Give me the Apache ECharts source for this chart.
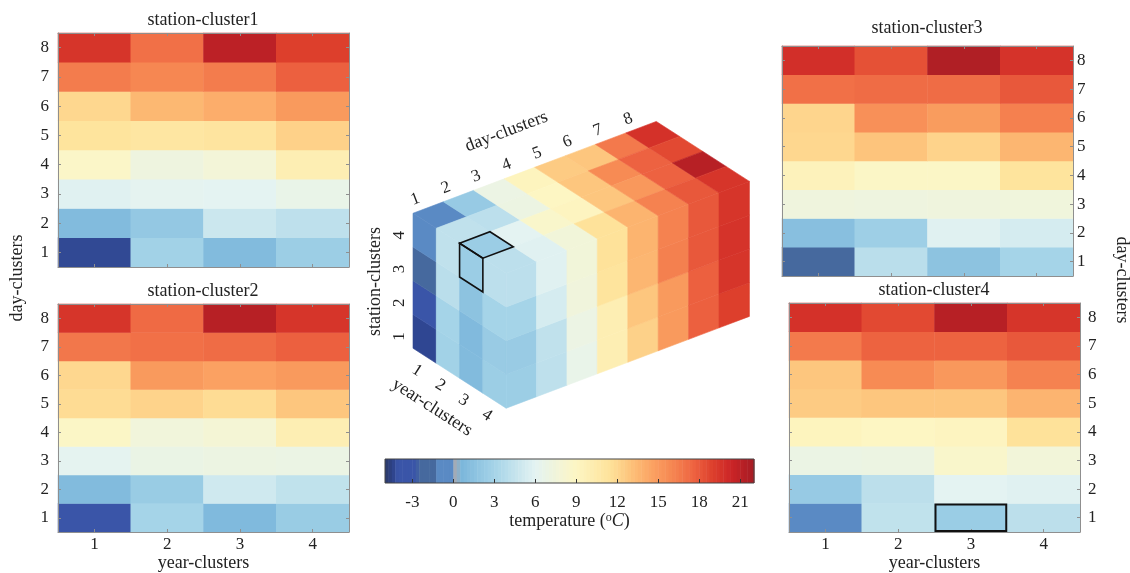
<!DOCTYPE html>
<html><head><meta charset="utf-8">
<script src="https://cdn.jsdelivr.net/npm/echarts@6/dist/echarts.min.js"></script>
<style>html,body{margin:0;padding:0;background:#fff}#c{width:1130px;height:573px}</style>
</head><body><div id="c"></div>
<script>
// ---------- data ----------
const years = ['1', '2', '3', '4'];
const days = ['1', '2', '3', '4', '5', '6', '7', '8'];
const stations = ['1', '2', '3', '4'];
// rows: day-cluster 1..8, columns: year-cluster 1..4 (temperature, °C)
const station1 = [
  [-4.3, 2.8, 1.0, 2.5],
  [1.0, 2.0, 4.8, 4.2],
  [5.8, 6.1, 6.0, 6.6],
  [8.7, 7.2, 7.7, 10.0],
  [11.3, 11.0, 11.2, 12.3],
  [12.0, 13.5, 14.0, 15.0],
  [16.5, 16.0, 16.5, 17.7],
  [19.5, 17.0, 21.0, 19.0]
];
const station2 = [
  [-3.5, 3.0, 0.9, 2.3],
  [1.0, 2.3, 5.0, 4.3],
  [6.1, 6.8, 7.0, 6.9],
  [8.8, 7.5, 7.9, 10.0],
  [11.8, 12.2, 11.8, 12.8],
  [12.0, 15.0, 14.6, 15.0],
  [16.7, 17.0, 17.2, 17.7],
  [19.5, 17.3, 21.2, 19.5]
];
const station3 = [
  [-2.0, 4.0, 1.6, 3.0],
  [1.3, 2.6, 5.8, 5.3],
  [7.3, 7.2, 7.3, 7.4],
  [9.5, 8.8, 8.8, 11.3],
  [12.0, 12.9, 12.2, 13.6],
  [12.1, 15.5, 14.9, 16.3],
  [17.0, 17.2, 17.2, 18.0],
  [19.8, 18.3, 21.5, 19.6]
];
const station4 = [
  [-0.5, 4.3, 2.4, 4.1],
  [2.2, 4.1, 6.0, 5.8],
  [6.9, 7.0, 8.5, 7.6],
  [9.3, 9.0, 9.2, 11.5],
  [12.6, 12.8, 12.8, 13.7],
  [12.8, 15.8, 15.1, 16.2],
  [16.6, 17.6, 17.6, 18.0],
  [19.7, 18.6, 21.2, 19.5]
];
const highlightCell = { station: 4, day: 1, year: 3 };
const colorTicks = [-3, 0, 3, 6, 9, 12, 15, 18, 21];
const tempMin = -5, tempMax = 22;
const colorStops = [
  [-5.0, '#2b3a68'], [-4.3, '#2f4692'], [-4.1, '#3a55a8'], [-2.65, '#3a55a8'],
  [-2.6, '#46699e'], [-1.25, '#46699e'], [-1.2, '#5a8ac4'], [-0.05, '#5a8ac4'],
  [0.0, '#a2abb6'], [0.35, '#a2abb6'], [0.4, '#78b4da'], [3, '#a5d4e8'],
  [6, '#e4f3f2'], [9, '#fdf6c3'], [11.5, '#fee29a'], [13, '#fdc27a'],
  [14.5, '#fba363'], [16, '#f68752'], [17.5, '#ee6542'], [19, '#dd3f2c'],
  [20.3, '#cc2527'], [22, '#a51c24']
];

// ---------- helpers ----------
const clusters = [station1, station2, station3, station4];
const FONT = '"Liberation Serif", "Times New Roman", serif';
const TXT = '#222';
function hex2rgb(h) { return [parseInt(h.substr(1, 2), 16), parseInt(h.substr(3, 2), 16), parseInt(h.substr(5, 2), 16)]; }
function cmap(v) {
  if (v <= colorStops[0][0]) return colorStops[0][1];
  for (let i = 1; i < colorStops.length; i++) {
    if (v <= colorStops[i][0]) {
      const a = colorStops[i - 1], b = colorStops[i];
      const t = (v - a[0]) / (b[0] - a[0]);
      const ca = hex2rgb(a[1]), cb = hex2rgb(b[1]);
      return 'rgb(' + ca.map((x, k) => Math.round(x + (cb[k] - x) * t)).join(',') + ')';
    }
  }
  return colorStops[colorStops.length - 1][1];
}
const vmColors = [];
for (let v = tempMin; v <= tempMax + 1e-9; v += 0.25) vmColors.push(cmap(v));

// projection of (year, day, station) into the hidden cube plane
function P(y, d, s) { return [y * 0.690 + d * 0.901, -y * 0.444 + d * 0.340 + s]; }

// ---------- axes / grids ----------
const grids = [
  { left: 58, top: 33, width: 291, height: 234 },
  { left: 58, top: 304, width: 291, height: 230 },
  { left: 782, top: 46, width: 291, height: 230 },
  { left: 789, top: 303, width: 291, height: 233 },
  { left: 413, top: 112, width: 337.5, height: 303.75 },   // cube plane
  { left: 385, top: 459, width: 369, height: 24 }           // colour bar
];
const xAxes = [], yAxes = [];
function makeAxes(gi, yPos, showX, yMargin) {
  const line = { show: true, lineStyle: { color: '#8f8f8f', width: 1 } };
  const tick = { show: true, inside: true, length: 3, alignWithLabel: true, lineStyle: { color: '#8f8f8f' } };
  const lab = { fontFamily: FONT, fontSize: 17, color: TXT };
  xAxes.push({ gridIndex: gi, type: 'category', data: years, position: 'bottom', z: 10, axisLine: line, axisTick: tick,
    axisLabel: Object.assign({ show: showX, margin: 4 }, lab), splitLine: { show: false },
    name: showX ? 'year-clusters' : '', nameLocation: 'middle', nameGap: 22,
    nameTextStyle: { fontFamily: FONT, fontSize: 18, color: TXT } });
  xAxes.push({ gridIndex: gi, type: 'category', data: years, position: 'top', z: 10, axisLine: line, axisTick: tick, axisLabel: { show: false } });
  yAxes.push({ gridIndex: gi, type: 'category', data: days, position: yPos, z: 10, axisLine: line, axisTick: tick,
    axisLabel: Object.assign({ margin: yMargin }, lab), splitLine: { show: false } });
  yAxes.push({ gridIndex: gi, type: 'category', data: days, position: yPos === 'left' ? 'right' : 'left', z: 10, axisLine: line, axisTick: tick, axisLabel: { show: false } });
}
makeAxes(0, 'left', false, 9);
makeAxes(1, 'left', true, 9);
makeAxes(2, 'right', false, 4);
makeAxes(3, 'right', true, 8);
// cube plane axes (index 8)
xAxes.push({ gridIndex: 4, type: 'value', min: 0, max: 10, show: false });
yAxes.push({ gridIndex: 4, type: 'value', min: -2, max: 7, show: false });
// colour bar axes (index 9)
xAxes.push({ gridIndex: 5, type: 'value', min: tempMin, max: tempMax, z: 10,
  axisLine: { show: false },
  axisTick: { show: true, inside: true, length: 4, customValues: colorTicks, lineStyle: { color: '#333' } },
  axisLabel: { customValues: colorTicks, fontFamily: FONT, fontSize: 17, color: TXT, margin: 11 },
  splitLine: { show: false },
  name: 'temperature ({o|o}{c|C})', nameLocation: 'middle', nameGap: 29,
  nameTextStyle: { fontFamily: FONT, fontSize: 18, color: TXT,
    rich: { o: { fontFamily: FONT, fontSize: 12, color: TXT, verticalAlign: 'top' },
            c: { fontFamily: FONT, fontSize: 18, color: TXT, fontStyle: 'italic' } } } });
yAxes.push({ gridIndex: 5, type: 'value', min: 0, max: 1, show: false });

// ---------- series ----------
const series = [];
clusters.forEach((cl, gi) => {
  const data = [];
  cl.forEach((row, d) => row.forEach((v, y) => data.push([y, d, v])));
  series.push({ type: 'heatmap', xAxisIndex: 2 * gi, yAxisIndex: 2 * gi, data: data, silent: true,
    itemStyle: { borderWidth: 0 }, emphasis: { disabled: true } });
});
// outline of highlighted cell in station-cluster4 heatmap
series.push({ type: 'custom', xAxisIndex: 2 * (highlightCell.station - 1), yAxisIndex: 2 * (highlightCell.station - 1), silent: true, clip: false, z: 20,
  data: [[highlightCell.year - 1, highlightCell.day - 1]],
  renderItem: function (params, api) {
    const c = api.coord([api.value(0), api.value(1)]);
    const sz = api.size([1, 1]);
    return { type: 'rect', shape: { x: c[0] - sz[0] / 2 + 1, y: c[1] - sz[1] / 2 + 1, width: sz[0] - 2, height: sz[1] - 2 },
      style: { fill: 'none', stroke: '#111', lineWidth: 2 } };
  } });

// cube faces
const cubeFaces = [];
for (let y = 0; y < 4; y++) for (let s = 0; s < 4; s++) cubeFaces.push([0, y, s, clusters[s][0][y]]);   // day-1 side
for (let d = 0; d < 8; d++) for (let s = 0; s < 4; s++) cubeFaces.push([1, d, s, clusters[s][d][3]]);   // year-4 side
for (let d = 0; d < 8; d++) for (let y = 0; y < 4; y++) cubeFaces.push([2, d, y, clusters[3][d][y]]);   // station-4 top
series.push({ type: 'custom', xAxisIndex: 8, yAxisIndex: 8, silent: true, clip: false, data: cubeFaces,
  renderItem: function (params, api) {
    const f = api.value(0), a = api.value(1), b = api.value(2), v = api.value(3);
    let pts;
    if (f === 0) pts = [P(a, 0, b), P(a + 1, 0, b), P(a + 1, 0, b + 1), P(a, 0, b + 1)];
    else if (f === 1) pts = [P(4, a, b), P(4, a + 1, b), P(4, a + 1, b + 1), P(4, a, b + 1)];
    else pts = [P(b, a, 4), P(b, a + 1, 4), P(b + 1, a + 1, 4), P(b + 1, a, 4)];
    const c = cmap(v);
    return { type: 'polygon', shape: { points: pts.map(p => api.coord(p)) }, style: { fill: c, stroke: c, lineWidth: 0.6 } };
  } });
// highlighted cube cell outline
series.push({ type: 'custom', xAxisIndex: 8, yAxisIndex: 8, silent: true, clip: false, z: 20,
  data: [[highlightCell.year - 1, highlightCell.day - 1, highlightCell.station - 1]],
  renderItem: function (params, api) {
    const y0 = api.value(0), d0 = api.value(1), s0 = api.value(2);
    const top = [P(y0, d0, s0 + 1), P(y0, d0 + 1, s0 + 1), P(y0 + 1, d0 + 1, s0 + 1), P(y0 + 1, d0, s0 + 1)];
    const side = [P(y0, d0, s0), P(y0 + 1, d0, s0), P(y0 + 1, d0, s0 + 1), P(y0, d0, s0 + 1)];
    const st = { fill: 'none', stroke: '#111', lineWidth: 1.6 };
    return { type: 'group', children: [
      { type: 'polygon', shape: { points: top.map(p => api.coord(p)) }, style: st },
      { type: 'polygon', shape: { points: side.map(p => api.coord(p)) }, style: st }
    ] };
  } });
// cube labels
const cubeLabels = [];
days.forEach((t, i) => cubeLabels.push({ p: P(-0.55, i + 0.5, 4), text: t, rot: 0.361 }));
cubeLabels.push({ p: P(-1.95, 4.57, 4), text: 'day-clusters', rot: 0.361 });
stations.forEach((t, i) => cubeLabels.push({ p: P(0, -0.45, i + 0.5), text: t, rot: Math.PI / 2 }));
cubeLabels.push({ p: P(0, -1.25, 2.4), text: 'station-clusters', rot: Math.PI / 2 });
years.forEach((t, i) => cubeLabels.push({ p: P(i + 0.5, -0.25, -0.35), text: t, rot: -0.572 }));
cubeLabels.push({ p: P(1.8, -0.75, -0.7), text: 'year-clusters', rot: -0.572 });
series.push({ type: 'custom', xAxisIndex: 8, yAxisIndex: 8, silent: true, clip: false, z: 25,
  data: cubeLabels.map(l => l.p),
  renderItem: function (params, api) {
    const L = cubeLabels[params.dataIndex];
    const c = api.coord(L.p);
    const fs = L.text.length > 2 ? 18 : 17;
    return { type: 'text', x: c[0], y: c[1], rotation: L.rot,
      style: { text: L.text, font: fs + 'px ' + FONT, fill: TXT, align: 'center', verticalAlign: 'middle' } };
  } });
// colour bar
const barSteps = [];
for (let v = tempMin; v < tempMax - 1e-9; v += 0.25) barSteps.push([v, v + 0.25]);
series.push({ type: 'custom', xAxisIndex: 9, yAxisIndex: 9, silent: true, clip: false, data: barSteps,
  renderItem: function (params, api) {
    const v0 = api.value(0), v1 = api.value(1);
    const p0 = api.coord([v0, 1]), p1 = api.coord([v1, 0]);
    const c = cmap((v0 + v1) / 2);
    return { type: 'rect', shape: { x: p0[0], y: p0[1], width: p1[0] - p0[0] + 0.5, height: p1[1] - p0[1] }, style: { fill: c } };
  } });
series.push({ type: 'custom', xAxisIndex: 9, yAxisIndex: 9, silent: true, clip: false, z: 20, data: [[tempMin, tempMax]],
  renderItem: function (params, api) {
    const p0 = api.coord([api.value(0), 1]), p1 = api.coord([api.value(1), 0]);
    return { type: 'rect', shape: { x: p0[0], y: p0[1], width: p1[0] - p0[0], height: p1[1] - p0[1] },
      style: { fill: 'none', stroke: '#444', lineWidth: 1 } };
  } });

// ---------- option ----------
function label(x, y, text, rot) {
  return { type: 'text', x: x, y: y, rotation: rot || 0, silent: true,
    style: { text: text, font: '18px ' + FONT, fill: TXT, align: 'center', verticalAlign: 'middle' } };
}
const option = {
  animation: false,
  backgroundColor: '#fff',
  grid: grids,
  xAxis: xAxes,
  yAxis: yAxes,
  visualMap: { type: 'continuous', show: false, min: tempMin, max: tempMax, dimension: 2, seriesIndex: [0, 1, 2, 3], inRange: { color: vmColors } },
  series: series,
  graphic: [
    label(203, 20, 'station-cluster1'),
    label(203, 291, 'station-cluster2'),
    label(927, 28, 'station-cluster3'),
    label(934, 290, 'station-cluster4'),
    label(17, 278, 'day-clusters', Math.PI / 2),
    label(1122, 280, 'day-clusters', -Math.PI / 2)
  ]
};
const chart = echarts.init(document.getElementById('c'));
chart.setOption(option);
</script>
</body></html>
